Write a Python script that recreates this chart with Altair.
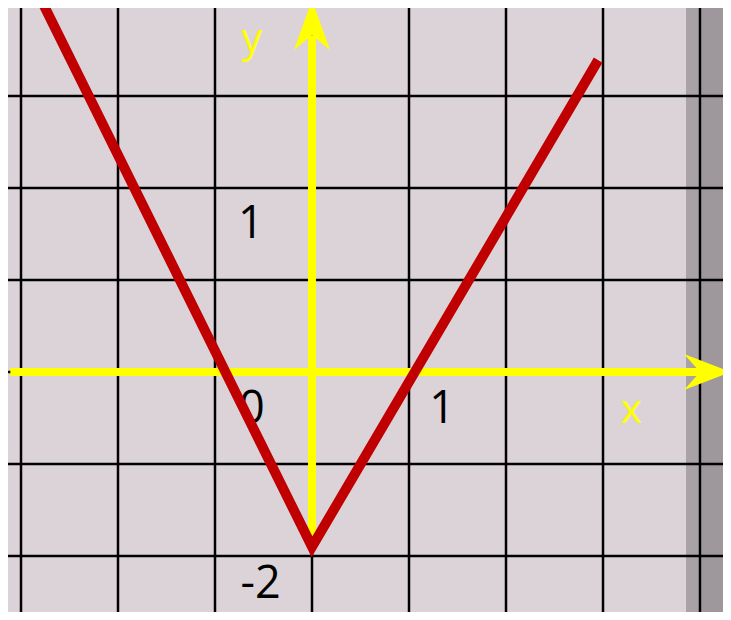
import altair as alt
import pandas as pd

# ---- data (in graph units) ----
curve_x = [-2.79, 0.0, 2.95]
curve_y = [4.04, -1.90, 3.39]

grid_x = [-3, -2, -1, 0, 1, 2, 3, 4]
grid_y = [-2, -1, 0, 1, 2, 3, 4]

num_text = ["1", "0", "-2", "1"]
num_x = [-0.63, -0.62, -0.53, 1.34]
num_y = [1.46, -0.55, -2.46, -0.55]

axis_text = ["y", "x"]
axis_tx = [-0.62, 3.29]
axis_ty = [3.48, -0.55]

# axis extents
axis_x_from, axis_x_to = -3.11, 4.00
axis_y_from, axis_y_to = -1.90, 3.66
arrow_x_pos = 4.072
arrow_y_pos = 3.783

strip_edges = [3.856, 4.02, 4.30]

X_DOM = [-3.134, 4.237]
Y_DOM = [-2.609, 3.957]

xs = alt.Scale(domain=X_DOM, nice=False, zero=False)
ys = alt.Scale(domain=Y_DOM, nice=False, zero=False)

def X(f="x"):
    return alt.X(f"{f}:Q", scale=xs, axis=None)

def Y(f="y"):
    return alt.Y(f"{f}:Q", scale=ys, axis=None)

BG = "#dcd3d9"
YELLOW = "#ffff00"
RED = "#c00000"

# gray strip on the right
strip_df = pd.DataFrame({
    "x": strip_edges[:-1],
    "x2": strip_edges[1:],
    "c": ["a", "b"],
})
strip = alt.Chart(strip_df).mark_rect(clip=True).encode(
    x=X("x"), x2="x2:Q",
    color=alt.Color("c:N", scale=alt.Scale(domain=["a", "b"], range=["#a8a1a5", "#9e979b"]), legend=None),
)

# grid
vgrid = alt.Chart(pd.DataFrame({"x": grid_x})).mark_rule(color="#000000", strokeWidth=2.5).encode(x=X("x"))
hgrid = alt.Chart(pd.DataFrame({"y": grid_y})).mark_rule(color="#000000", strokeWidth=2.5).encode(y=Y("y"))

# yellow axes
axes_df = pd.DataFrame({
    "x": [axis_x_from, 0.0],
    "x2": [axis_x_to, 0.0],
    "y": [0.0, axis_y_from],
    "y2": [0.0, axis_y_to],
})
axes = alt.Chart(axes_df).mark_rule(color=YELLOW, strokeWidth=8, strokeCap="butt").encode(
    x=X("x"), x2="x2:Q", y=Y("y"), y2="y2:Q"
)

arrow_right = alt.Chart(pd.DataFrame({"x": [arrow_x_pos], "y": [0.0]})).mark_point(
    shape="M1,0L-0.96,0.75L-0.29,0L-0.96,-0.75Z",
    filled=True, size=2304, color=YELLOW, opacity=1, strokeWidth=0,
).encode(x=X("x"), y=Y("y"))

arrow_up = alt.Chart(pd.DataFrame({"x": [0.0], "y": [arrow_y_pos]})).mark_point(
    shape="M0,-1L0.75,1.08L0,0.46L-0.75,1.08Z",
    filled=True, size=2304, color=YELLOW, opacity=1, strokeWidth=0,
).encode(x=X("x"), y=Y("y"))

# labels
nums = alt.Chart(pd.DataFrame({"x": num_x, "y": num_y, "t": num_text})).mark_text(
    font="Open Sans", fontSize=45, baseline="alphabetic", align="center", color="#000000"
).encode(x=X("x"), y=Y("y"), text="t:N")

letters = alt.Chart(pd.DataFrame({"x": axis_tx, "y": axis_ty, "t": axis_text})).mark_text(
    font="Open Sans", fontSize=41, baseline="alphabetic", align="center", color=YELLOW
).encode(x=X("x"), y=Y("y"), text="t:N")

# the V-shaped graph
curve_df = pd.DataFrame({"x": curve_x, "y": curve_y, "o": list(range(len(curve_x)))})
curve = alt.Chart(curve_df).mark_line(
    color=RED, strokeWidth=10, strokeJoin="miter", strokeCap="butt", clip=True
).encode(x=X("x"), y=Y("y"), order="o:Q")

chart = alt.layer(
    strip, vgrid, hgrid, axes, arrow_right, arrow_up, letters, nums, curve
).properties(
    width=715, height=604,
    autosize=alt.AutoSizeParams(type="none"),
    padding=0,
    background=BG,
).configure_view(stroke=None, fill=BG)

chart.save("out.html", embed_options={"renderer": "svg", "actions": False})
